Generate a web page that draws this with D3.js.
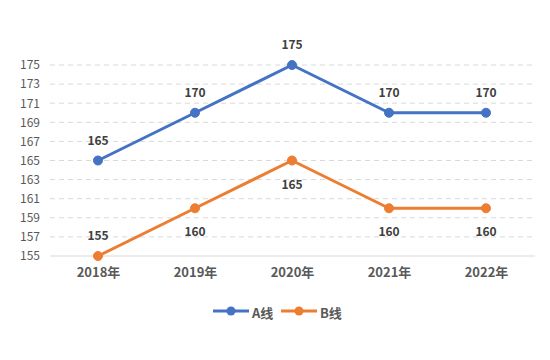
<!DOCTYPE html>
<html><head><meta charset="utf-8">
<script src="https://cdn.jsdelivr.net/npm/d3@7"></script>
<style>body{margin:0;background:#fff;}</style>
</head><body>
<svg id="c" width="550" height="360"></svg>
<script>
const categories = ["2018年","2019年","2020年","2021年","2022年"];
const seriesA = [165,170,175,170,170];
const seriesB = [155,160,165,160,160];
const yTicks = [155,157,159,161,163,165,167,169,171,173,175];
const seriesNames = ["A线","B线"];
const colors = ["#4472C4","#ED7D31"];

const svg = d3.select("#c");
const font = "'Microsoft YaHei','Noto Sans CJK SC','DejaVu Sans',sans-serif";
const x = d3.scalePoint().domain(categories).range([98,486]);
const y = d3.scaleLinear().domain([155,175]).range([256,65]);

// grid
svg.append("g").selectAll("line").data(yTicks.slice(1)).join("line")
  .attr("x1",50).attr("x2",535).attr("y1",d=>y(d)).attr("y2",d=>y(d))
  .attr("stroke","#d9d9d9").attr("stroke-dasharray","5,4").attr("stroke-width",1);
svg.append("line").attr("x1",50).attr("x2",535).attr("y1",y(155)).attr("y2",y(155))
  .attr("stroke","#d9d9d9").attr("stroke-width",1);

// y axis
const ya = svg.append("g").attr("transform","translate(44,0)")
  .call(d3.axisLeft(y).tickValues(yTicks).tickSize(0).tickPadding(4));
ya.select(".domain").remove();
ya.selectAll("text").attr("font-family",font).attr("font-size",12).attr("fill","#595959");

// x axis
const xa = svg.append("g").attr("transform",`translate(0,${y(155)})`)
  .call(d3.axisBottom(x).tickSize(0).tickPadding(12));
xa.select(".domain").remove();
xa.selectAll("text").attr("font-family",font).attr("font-size",13).attr("font-weight","bold").attr("fill","#595959");

const series = [seriesA, seriesB];
const line = d3.line().x((d,i)=>x(categories[i])).y(d=>y(d));
series.forEach((s,k)=>{
  svg.append("path").datum(s).attr("d",line).attr("fill","none")
    .attr("stroke",colors[k]).attr("stroke-width",3).attr("stroke-linejoin","round");
  svg.append("g").selectAll("circle").data(s).join("circle")
    .attr("cx",(d,i)=>x(categories[i])).attr("cy",d=>y(d)).attr("r",4.5)
    .attr("fill",colors[k]).attr("stroke",colors[k]);
  svg.append("g").selectAll("text").data(s).join("text")
    .attr("x",(d,i)=>x(categories[i]))
    .attr("y",(d,i)=>{ const above = (k===0) || i===0; return above ? y(d)-16 : y(d)+28; })
    .attr("text-anchor","middle").attr("font-family",font).attr("font-size",12)
    .attr("font-weight","bold").attr("fill","#404040").text(d=>d);
});

// legend
const lg = svg.append("g");
const lx = [213,281];
seriesNames.forEach((n,k)=>{
  lg.append("line").attr("x1",lx[k]).attr("x2",lx[k]+36).attr("y1",311).attr("y2",311)
    .attr("stroke",colors[k]).attr("stroke-width",3);
  lg.append("circle").attr("cx",lx[k]+18).attr("cy",311).attr("r",4.5).attr("fill",colors[k]);
  lg.append("text").attr("x",lx[k]+39).attr("y",317.5).attr("font-family",font)
    .attr("font-size",13).attr("font-weight","bold").attr("fill","#595959").text(n);
});
</script>
</body></html>
